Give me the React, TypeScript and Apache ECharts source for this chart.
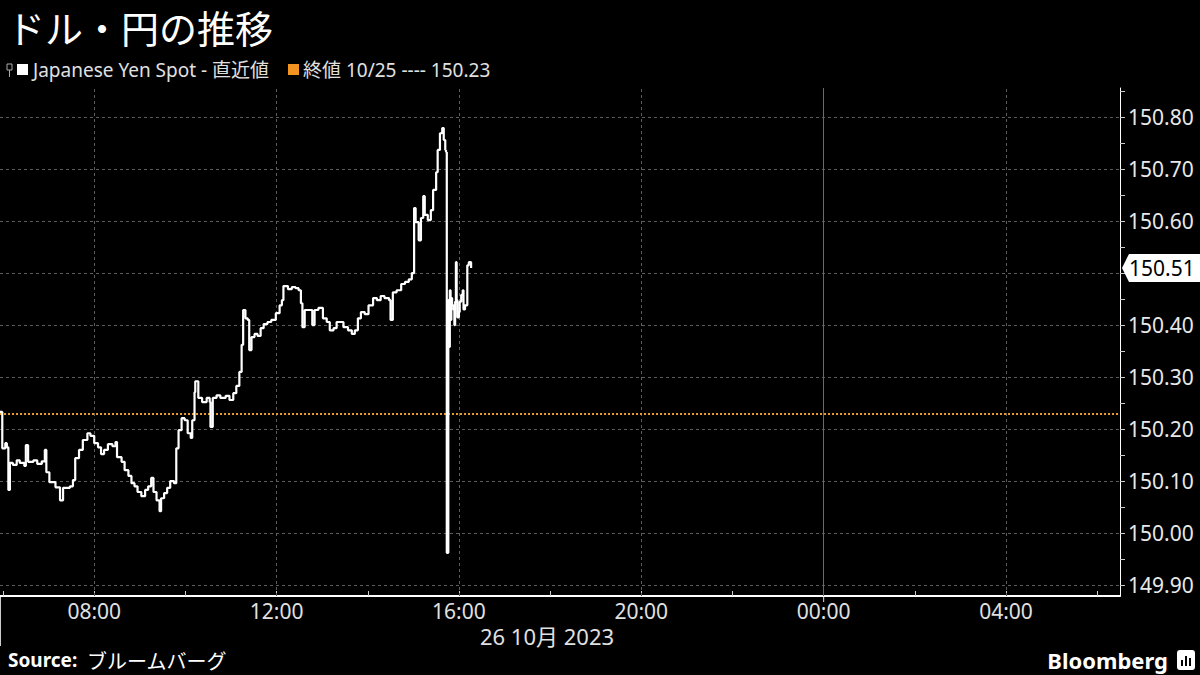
import React, { useEffect, useRef } from "react";
import * as echarts from "echarts";

const TITLE = "ドル・円の推移";
const LEGEND_SERIES = "Japanese Yen Spot - 直近値";
const LEGEND_CLOSE = "終値 10/25 ---- 150.23";
const DATE_LABEL = "26 10月 2023";
const SOURCE_LABEL = "Source:";
const SOURCE_TEXT = "ブルームバーグ";
const BRAND = "Bloomberg";

const PREV_CLOSE = 150.23;
const LAST_VALUE = 150.51;

// minutes after 00:00, 26 Oct 2023
const times: number[] = [
  356, 359, 363, 365, 367, 369, 373, 378, 382, 388, 390, 393, 400, 405, 411, 415, 417, 421, 429, 435,
  439, 448, 452, 455, 460, 465, 471, 475, 480, 485, 489, 493, 498, 504, 508, 510, 516, 520, 525, 529,
  533, 537, 542, 547, 551, 555, 558, 562, 566, 568, 572, 576, 580, 585, 588, 591, 595, 599, 603, 607,
  609, 612, 613, 617, 622, 628, 632, 633, 636, 641, 646, 653, 658, 663, 667, 671, 674, 676, 679, 682,
  684, 687, 691, 695, 699, 703, 708, 713, 719, 724, 727, 729, 735, 740, 745, 749, 752, 754, 757, 762,
  767, 770, 775, 781, 786, 790, 795, 799, 803, 808, 814, 819, 823, 827, 831, 836, 841, 847, 852, 857,
  862, 868, 870, 873, 878, 884, 889, 894, 898, 901, 903, 907, 910, 913, 915, 919, 923, 926, 930, 932,
  935, 938, 940, 942, 943, 944, 946, 947, 948, 949, 950, 951, 953, 954, 955, 956, 957, 958, 960, 961,
  963, 965, 966, 968, 971, 973, 976,
];

const prices: number[] = [
  150.233, 150.163, 150.173, 150.165, 150.083, 150.135, 150.131, 150.14, 150.135, 150.129, 150.169, 150.137, 150.14, 150.133, 150.138, 150.16, 150.117, 150.098, 150.088, 150.063,
  150.087, 150.09, 150.102, 150.144, 150.16, 150.179, 150.192, 150.187, 150.173, 150.165, 150.152, 150.16, 150.171, 150.167, 150.175, 150.146, 150.137, 150.121, 150.11, 150.096,
  150.09, 150.079, 150.071, 150.083, 150.09, 150.106, 150.079, 150.063, 150.042, 150.067, 150.077, 150.087, 150.1, 150.096, 150.163, 150.198, 150.221, 150.217, 150.192, 150.183,
  150.217, 150.271, 150.292, 150.26, 150.252, 150.26, 150.252, 150.204, 150.26, 150.265, 150.26, 150.264, 150.256, 150.269, 150.283, 150.31, 150.362, 150.429, 150.413, 150.41,
  150.352, 150.377, 150.383, 150.379, 150.394, 150.402, 150.406, 150.41, 150.423, 150.438, 150.448, 150.475, 150.469, 150.473, 150.471, 150.467, 150.442, 150.396, 150.429, 150.429,
  150.4, 150.429, 150.433, 150.413, 150.406, 150.39, 150.394, 150.406, 150.406, 150.396, 150.39, 150.383, 150.39, 150.413, 150.425, 150.421, 150.438, 150.452, 150.448, 150.456,
  150.452, 150.448, 150.41, 150.463, 150.467, 150.479, 150.483, 150.488, 150.5, 150.625, 150.598, 150.563, 150.606, 150.648, 150.612, 150.602, 150.621, 150.66, 150.694, 150.737,
  150.769, 150.779, 150.756, 150.737, 150.733, 149.962, 150.448, 150.358, 150.467, 150.41, 150.452, 150.438, 150.429, 150.4, 150.445, 150.521, 150.448, 150.415, 150.425, 150.445,
  150.458, 150.467, 150.43, 150.438, 150.515, 150.521, 150.51,
];

const yLabelValues: number[] = [149.9, 150.0, 150.1, 150.2, 150.3, 150.4, 150.6, 150.7, 150.8];
const yGridValues: number[] = [149.9, 150.0, 150.1, 150.2, 150.3, 150.4, 150.5, 150.6, 150.7, 150.8];
const yTickValues: number[] = [
  149.9, 149.95, 150.0, 150.05, 150.1, 150.15, 150.2, 150.25, 150.3, 150.35, 150.4, 150.45, 150.5, 150.55,
  150.6, 150.65, 150.7, 150.75, 150.8, 150.85,
];
const xLabelTimes: number[] = [480, 720, 960, 1200, 1440, 1680];
const xTickTimes: number[] = [360, 480, 600, 720, 840, 960, 1080, 1200, 1320, 1440, 1560, 1680, 1800];
const DAY_BREAK = 1440;

const X_MIN = 356;
const X_MAX = 1830;
const Y_MIN = 149.879;
const Y_MAX = 150.856;

export default function App() {
  const ref = useRef<HTMLDivElement>(null);

  useEffect(() => {
    const el = ref.current;
    if (!el) return;
    const chart = echarts.init(el, null, { renderer: "svg" });
    const pad = (n: number) => String(n).padStart(2, "0");
    const fmtTime = (v: number) => {
      const m = ((Math.round(v) % 1440) + 1440) % 1440;
      return pad(Math.floor(m / 60)) + ":" + pad(m % 60);
    };
    const font = '"Noto Sans", "Noto Sans CJK JP", sans-serif';
    const cjk = '"Noto Sans CJK JP", "Noto Sans", sans-serif';
    const dash = { color: "#5c5c5c", type: [3, 3], width: 1 };

    chart.setOption({
      animation: false,
      backgroundColor: "#000",
      grid: { left: 0, right: 80, top: 88, bottom: 79, containLabel: false, outerBoundsMode: "none" },
      xAxis: {
        type: "value",
        min: X_MIN,
        max: X_MAX,
        axisLine: { show: true, lineStyle: { color: "#fff", width: 2 } },
        axisTick: { show: true, inside: true, length: 5, customValues: xTickTimes, lineStyle: { color: "#ccc" } },
        axisLabel: {
          customValues: xLabelTimes,
          formatter: (v: number) => fmtTime(v),
          color: "#e0e0e0",
          fontSize: 21,
          fontFamily: font,
          margin: 4,
        },
        splitLine: { show: false },
      },
      yAxis: {
        type: "value",
        position: "right",
        min: Y_MIN,
        max: Y_MAX,
        axisLine: { show: true, lineStyle: { color: "#fff", width: 1 } },
        axisTick: { show: true, length: 5, customValues: yTickValues, lineStyle: { color: "#ccc" } },
        axisLabel: {
          customValues: yLabelValues,
          formatter: (v: number) => v.toFixed(2),
          color: "#e8e8e8",
          fontSize: 21,
          fontFamily: font,
          margin: 8,
        },
        splitLine: { show: false },
      },
      series: [
        {
          type: "line",
          z: 1,
          silent: true,
          data: [[X_MIN, Y_MIN]],
          showSymbol: false,
          lineStyle: { opacity: 0 },
          markLine: {
            silent: true,
            symbol: "none",
            label: { show: false },
            animation: false,
            data: [
              ...yGridValues.map((v) => ({ yAxis: v, lineStyle: dash })),
              ...xLabelTimes.map((t) => ({
                xAxis: t,
                lineStyle: t === DAY_BREAK ? { color: "#6a6a6a", type: "solid", width: 1 } : dash,
              })),
            ],
          },
        },
        {
          type: "line",
          name: "Japanese Yen Spot",
          z: 5,
          step: "end",
          data: times.map((t, i) => [t, prices[i]]),
          showSymbol: false,
          lineStyle: { color: "#fff", width: 2.2 },
          markLine: {
            silent: true,
            symbol: "none",
            label: { show: false },
            animation: false,
            data: [{ yAxis: PREV_CLOSE, lineStyle: { color: "#e89a2c", type: [2, 2], width: 2 } }],
          },
        },
      ],
    });

    const yLast = chart.convertToPixel({ yAxisIndex: 0 }, LAST_VALUE) as number;
    const xDay = chart.convertToPixel({ xAxisIndex: 0 }, DAY_BREAK) as number;
    const xEnd = chart.convertToPixel({ xAxisIndex: 0 }, X_MAX) as number;
    const yBase = chart.convertToPixel({ yAxisIndex: 0 }, Y_MIN) as number;

    chart.setOption({
      graphic: [
        {
          type: "text",
          x: 7,
          y: 26,
          style: { text: TITLE, fill: "#fff", fontSize: 38, fontFamily: cjk, verticalAlign: "middle" },
        },
        // legend icon (small chart glyph)
        { type: "rect", shape: { x: 7, y: 64, width: 5, height: 6 }, style: { fill: "none", stroke: "#aaa", lineWidth: 1 } },
        { type: "line", shape: { x1: 9.5, y1: 70, x2: 9.5, y2: 77 }, style: { stroke: "#aaa", lineWidth: 1 } },
        { type: "rect", shape: { x: 17, y: 64, width: 11, height: 11 }, style: { fill: "#fff" } },
        {
          type: "text",
          x: 33,
          y: 70,
          style: { text: LEGEND_SERIES, fill: "#e0e0e0", fontSize: 19, fontFamily: font, verticalAlign: "middle" },
        },
        { type: "rect", shape: { x: 288, y: 64, width: 11, height: 11 }, style: { fill: "#f39321" } },
        {
          type: "text",
          x: 303,
          y: 70,
          style: { text: LEGEND_CLOSE, fill: "#e0e0e0", fontSize: 19, fontFamily: font, verticalAlign: "middle" },
        },
        // last value tag
        {
          type: "polygon",
          z: 100,
          shape: {
            points: [
              [xEnd + 2, yLast],
              [xEnd + 9, yLast - 14],
              [1200, yLast - 14],
              [1200, yLast + 14],
              [xEnd + 9, yLast + 14],
            ],
          },
          style: { fill: "#fff" },
        },
        {
          type: "text",
          z: 101,
          x: xEnd + 9,
          y: yLast,
          style: { text: LAST_VALUE.toFixed(2), fill: "#000", fontSize: 21, fontFamily: font, verticalAlign: "middle" },
        },
        // day break tick and date span marker
        { type: "line", shape: { x1: xDay, y1: yBase, x2: xDay, y2: yBase + 6 }, style: { stroke: "#ddd", lineWidth: 1 } },
        { type: "line", shape: { x1: 0.5, y1: yBase, x2: 0.5, y2: yBase + 50 }, style: { stroke: "#ccc", lineWidth: 1 } },
        {
          type: "text",
          x: 547,
          y: 636,
          style: { text: DATE_LABEL, fill: "#e0e0e0", fontSize: 22, fontFamily: font, align: "center", verticalAlign: "middle" },
        },
        // footer
        {
          type: "text",
          x: 8,
          y: 660,
          style: { text: SOURCE_LABEL, fill: "#fff", fontSize: 19, fontWeight: "bold", fontFamily: font, verticalAlign: "middle" },
        },
        {
          type: "text",
          x: 87,
          y: 660,
          style: { text: SOURCE_TEXT, fill: "#fff", fontSize: 20, fontFamily: cjk, verticalAlign: "middle" },
        },
        {
          type: "text",
          x: 1168,
          y: 660,
          style: { text: BRAND, fill: "#fff", fontSize: 22, fontWeight: "bold", fontFamily: font, align: "right", verticalAlign: "middle" },
        },
        { type: "rect", shape: { x: 1177, y: 650, width: 18, height: 20, r: 3 }, style: { fill: "#fff" } },
        { type: "rect", shape: { x: 1181, y: 660, width: 2, height: 6 }, style: { fill: "#000" } },
        { type: "rect", shape: { x: 1185, y: 656, width: 2, height: 10 }, style: { fill: "#000" } },
        { type: "rect", shape: { x: 1189, y: 658, width: 2, height: 8 }, style: { fill: "#000" } },
      ],
    });

    return () => {
      chart.dispose();
    };
  }, []);

  return (
    <div
      ref={ref}
      style={{ position: "fixed", left: 0, top: 0, width: 1200, height: 675, background: "#000" }}
    />
  );
}
